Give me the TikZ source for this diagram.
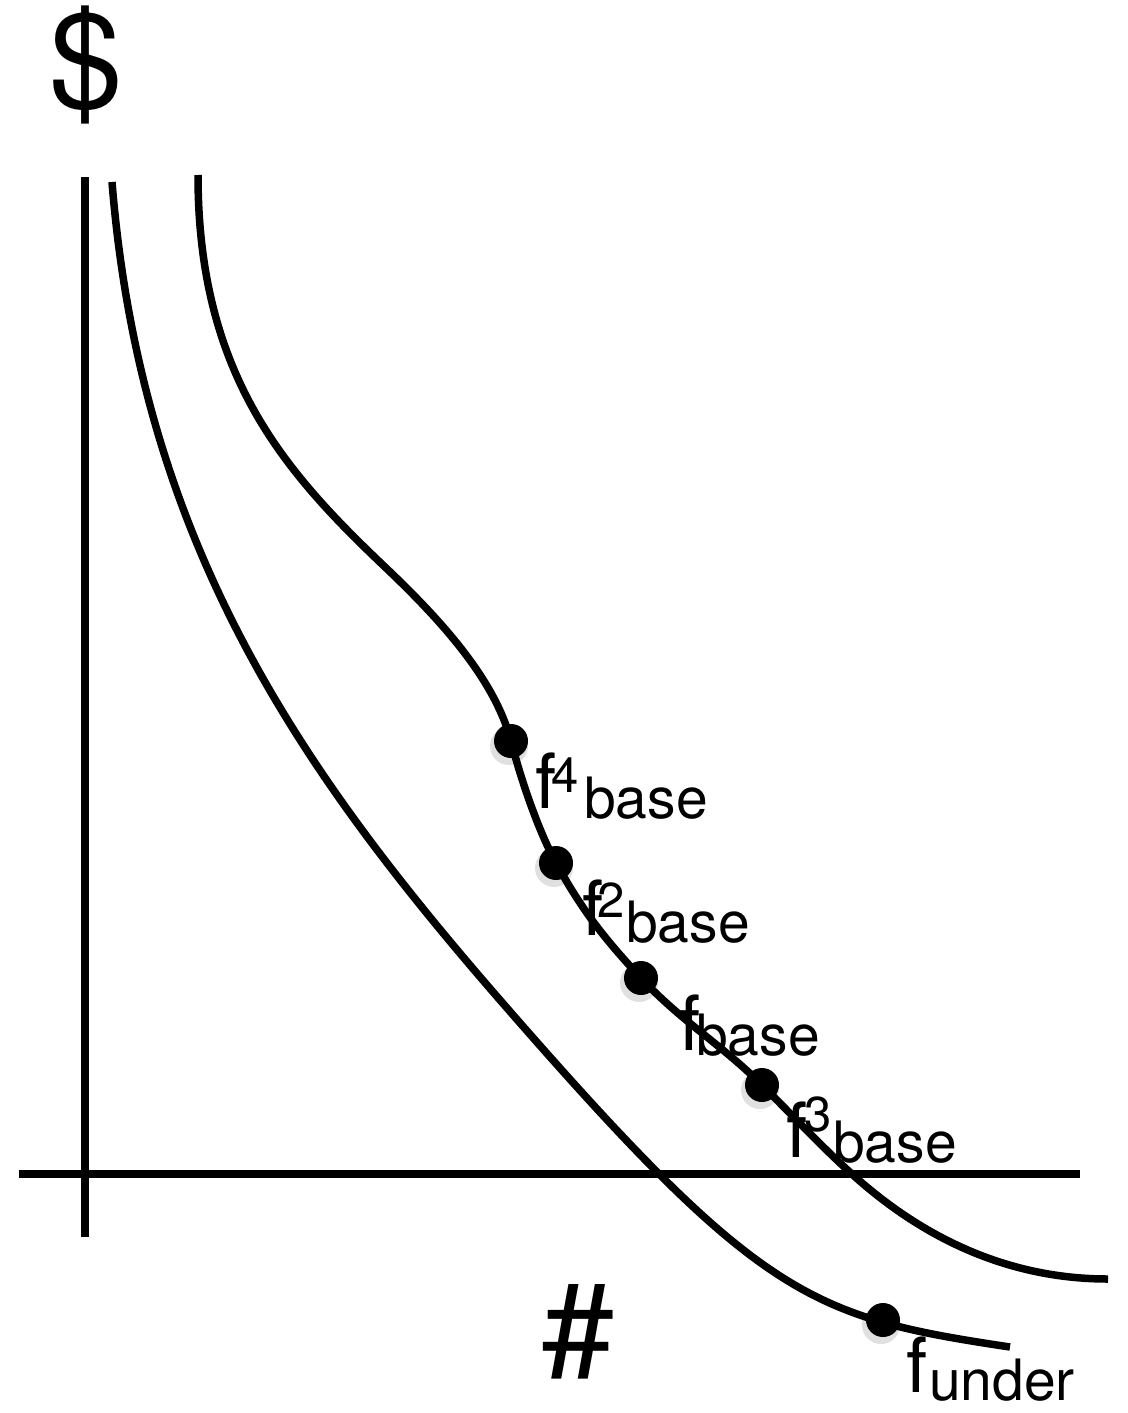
\documentclass[tikz,border=0pt]{standalone}
\usepackage{fontspec}
\setmainfont{TeX Gyre Heros}
\begin{document}
\begin{tikzpicture}[x=1pt,y=-1pt,
  axis/.style={line width=8pt},
  curve/.style={line width=7.5pt},
  dotnode/.style={circle,fill=black,minimum size=34pt,inner sep=0pt},
  shadowdot/.style={circle,fill=black,opacity=0.12,minimum size=38pt,inner sep=0pt},
  ftxt/.style={inner sep=0pt,anchor=base west,font=\fontsize{76}{76}\selectfont},
  suptxt/.style={inner sep=0pt,anchor=base west,font=\fontsize{49}{49}\selectfont},
  subtxt/.style={inner sep=0pt,anchor=base west,font=\fontsize{57}{57}\selectfont},
  bigtxt/.style={inner sep=0pt,anchor=base west,font=\fontsize{132}{132}\selectfont}]
\useasboundingbox (0,0) rectangle (1127,1413);
% axes
\coordinate (ytop) at (85,177);
\coordinate (ybot) at (85,1237);
\coordinate (xleft) at (19,1174);
\coordinate (xright) at (1080,1174);
\draw[axis] (ytop) -- (ybot);
\draw[axis] (xleft) -- (xright);
% axis labels
\node[bigtxt] (dollar) at (49,107) {\$};
\node[bigtxt] (hash) at (541,1376) {\#};
% lower curve
\coordinate (lo0) at (112,182);
\coordinate (lo1) at (500,1000);
\coordinate (lo2) at (1010,1347);
\draw[curve] (lo0) .. controls (141,542) and (300,770) .. (lo1)
                   .. controls (760,1299) and (810,1317) .. (lo2);
% dots positions
\coordinate (p4) at (511,741);
\coordinate (p2) at (556,863);
\coordinate (p1) at (641,978);
\coordinate (p3) at (762,1085);
\coordinate (pu) at (883,1320);
% upper curve
\coordinate (up0) at (198,175);
\coordinate (up1) at (385,567);
\coordinate (upx) at (853,1175);
\coordinate (upe) at (1108,1279);
\draw[curve] (up0) .. controls (198,375) and (285,472) .. (up1)
                   .. controls (445,624) and (495,681) .. (p4)
                   .. controls (520,776) and (537,828) .. (p2)
                   .. controls (581,908) and (601,935) .. (p1)
                   .. controls (681,1021) and (722,1045) .. (p3)
                   .. controls (792,1115) and (823,1148) .. (upx)
                   .. controls (923,1238) and (1008,1279) .. (upe);
% shadows
\foreach \x/\y in {511/741,556/863,641/978,762/1085,883/1320}{
  \node[shadowdot] at (\x-2,\y+5) {};
}
% dots
\node[dotnode] (d4) at (p4) {};
\node[dotnode] (d2) at (p2) {};
\node[dotnode] (d1) at (p1) {};
\node[dotnode] (d3) at (p3) {};
\node[dotnode] (du) at (pu) {};
% labels
\node[ftxt] (f4f) at (535,808) {f};
\node[suptxt] (f4s) at (551,792) {4};
\node[subtxt] (f4b) at (584,818) {base};
\node[ftxt] (f2f) at (582,935) {f};
\node[suptxt] (f2s) at (597,917) {2};
\node[subtxt] (f2b) at (626,942) {base};
\node[ftxt] (f1f) at (679,1050) {f};
\node[subtxt] (f1b) at (696,1055) {base};
\node[ftxt] (f3f) at (786,1157) {f};
\node[suptxt] (f3s) at (804,1131) {3};
\node[subtxt] (f3b) at (833,1162) {base};
\node[ftxt] (fuf) at (906,1392) {f};
\node[subtxt] (fub) at (929,1400) {under};
\end{tikzpicture}
\end{document}
